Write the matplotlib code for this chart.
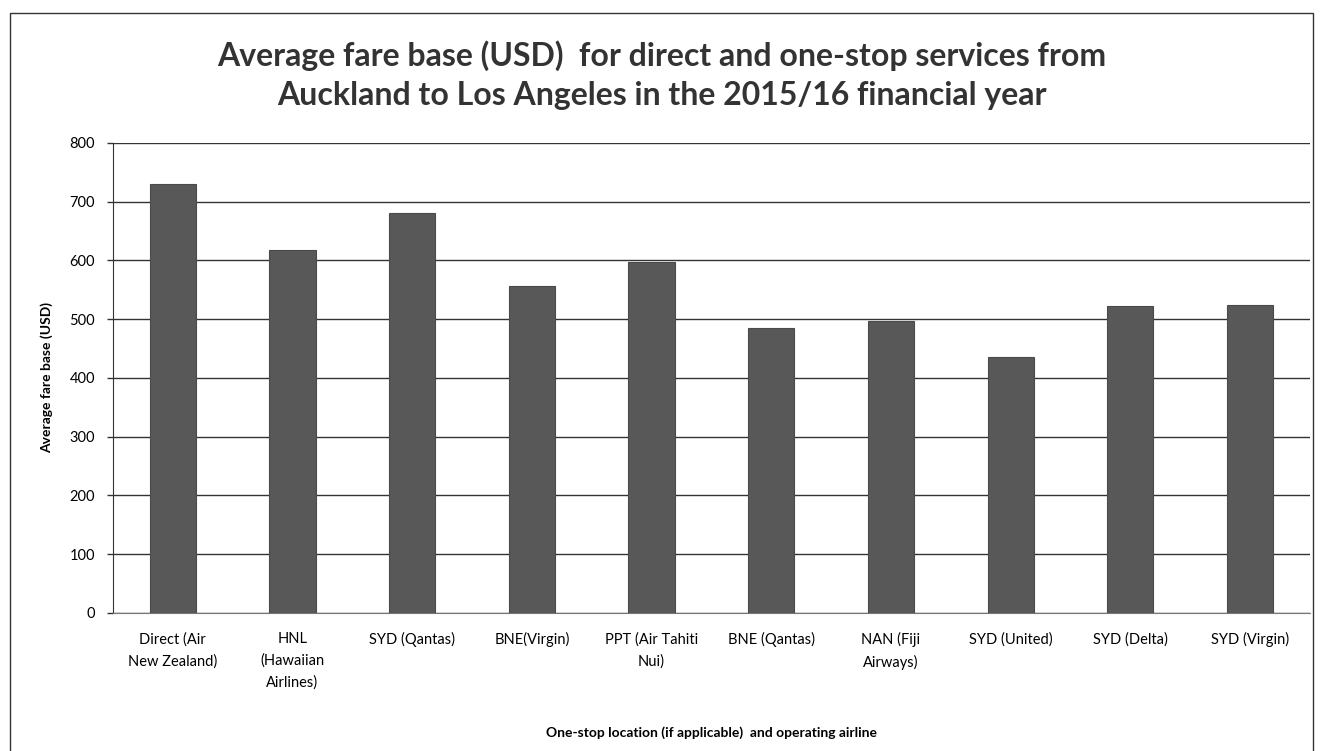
import matplotlib.pyplot as plt
import matplotlib.patches as patches
import numpy as np

# fare data
labels = ['Direct (Air\nNew Zealand)', 'HNL\n(Hawaiian\nAirlines)', 'SYD (Qantas)', 'BNE(Virgin)',
          'PPT (Air Tahiti\nNui)', 'BNE (Qantas)', 'NAN (Fiji\nAirways)', 'SYD (United)',
          'SYD (Delta)', 'SYD (Virgin)']
fares = [730, 617, 680, 557, 598, 485, 497, 436, 522, 525]
yticks = [0, 100, 200, 300, 400, 500, 600, 700, 800]

plt.rcParams['font.family'] = ['Lato', 'DejaVu Sans']

fig = plt.figure(figsize=(13.23, 7.51), dpi=100)
ax = fig.add_axes([0.0854, 0.1838, 0.9046, 0.6258])

x = np.arange(len(labels))
ax.bar(x, fares, width=0.385, color='#585858', edgecolor='#4a4a4a', linewidth=0.8, zorder=3)

ax.set_xlim(-0.5, len(labels) - 0.5)
ax.set_ylim(0, 800)
ax.set_yticks(yticks)
ax.set_xticks(x)
ax.set_xticklabels(labels, fontsize=10.5, linespacing=1.65)
ax.tick_params(axis='x', length=0, pad=14)
ax.tick_params(axis='y', length=4, width=1, color='#333333', pad=9, labelsize=10.5)
ax.grid(axis='y', color='#333333', linewidth=1.0, zorder=0)

for s in ['top', 'right']:
    ax.spines[s].set_visible(False)
ax.spines['left'].set_color('#333333')
ax.spines['bottom'].set_color('#777777')

ax.set_ylabel('Average fare base (USD)', fontsize=10, fontweight='bold', labelpad=12)
ax.set_xlabel('One-stop location (if applicable)  and operating airline', fontsize=10,
              fontweight='bold', labelpad=26)

fig.text(0.50, 0.9, 'Average fare base (USD)  for direct and one-stop services from\n'
         'Auckland to Los Angeles in the 2015/16 financial year',
         ha='center', va='center', fontsize=23, fontweight='bold', color='#333333', linespacing=1.4)

# outer chart frame
fig.patches.append(patches.Rectangle((10 / 1323, -0.01), 1303 / 1323, 1 - 13 / 751 + 0.01,
                                     transform=fig.transFigure, fill=False,
                                     edgecolor='#333333', linewidth=1.0))

plt.savefig('out.png', dpi=100)
